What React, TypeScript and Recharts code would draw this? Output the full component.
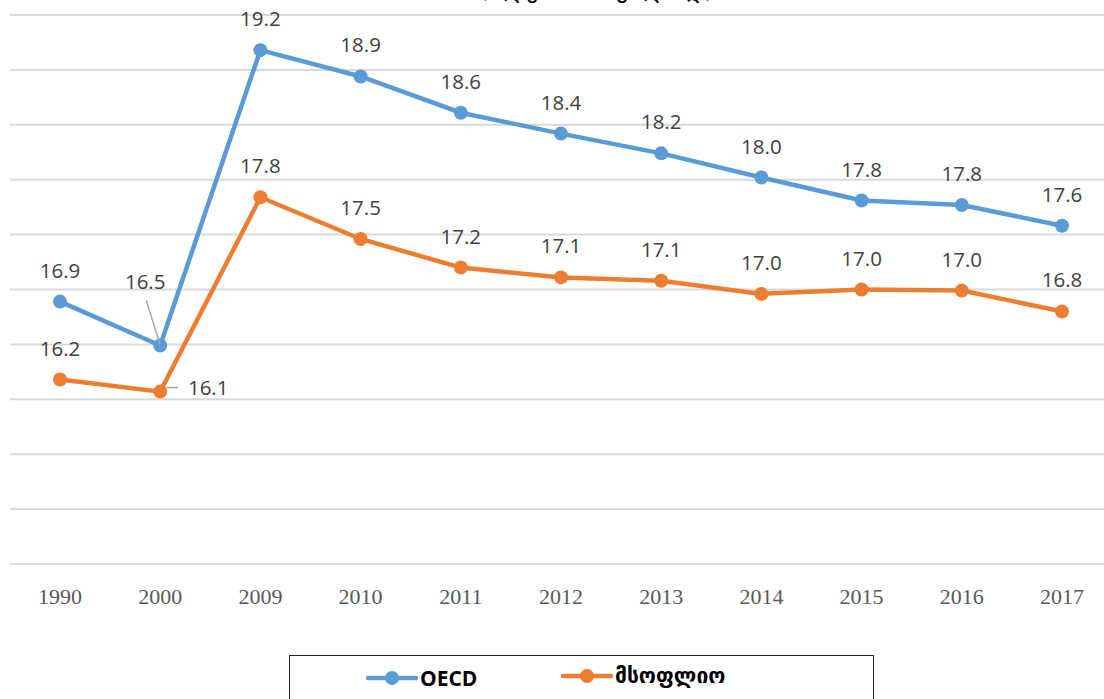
import React from "react";
import { LineChart, Line, XAxis, YAxis, CartesianGrid, LabelList } from "recharts";

const years = ["1990", "2000", "2009", "2010", "2011", "2012", "2013", "2014", "2015", "2016", "2017"];
const oecd = [16.89, 16.49, 19.18, 18.94, 18.61, 18.42, 18.24, 18.02, 17.81, 17.77, 17.58];
const world = [16.18, 16.07, 17.84, 17.46, 17.2, 17.11, 17.08, 16.96, 17.0, 16.99, 16.8];
const yTicks = [14.5, 15, 15.5, 16, 16.5, 17, 17.5, 18, 18.5, 19, 19.5];

const data = years.map((year, i) => ({ year, oecd: oecd[i], world: world[i] }));

const BLUE = "#5b9bd5";
const ORANGE = "#ed7d31";
const LABEL_FONT = "'Open Sans', sans-serif";

function makeLabel(series: "oecd" | "world") {
  return (props: any) => {
    const { x, y, value, index } = props;
    const txt = Number(value).toFixed(1);
    const common = {
      fontFamily: LABEL_FONT,
      fontSize: 20.5,
      fill: "#404040",
    };
    // 2000 labels are pulled aside with leader lines, as in the original
    if (index === 1 && series === "oecd") {
      return (
        <g>
          <line x1={x - 14} y1={y - 45} x2={x} y2={y - 1} stroke="#a6a6a6" strokeWidth={1.5} />
          <text x={x - 15} y={y - 56} textAnchor="middle" {...common}>{txt}</text>
        </g>
      );
    }
    if (index === 1 && series === "world") {
      return (
        <g>
          <line x1={x + 6} y1={y - 4} x2={x + 18} y2={y - 4} stroke="#a6a6a6" strokeWidth={1.5} />
          <text x={x + 48} y={y + 3} textAnchor="middle" {...common}>{txt}</text>
        </g>
      );
    }
    return (
      <text x={x} y={y - 24} textAnchor="middle" {...common}>{txt}</text>
    );
  };
}

function YearTick(props: any) {
  const { x, y, payload } = props;
  return (
    <text
      x={x}
      y={y + 32}
      textAnchor="middle"
      fontFamily="'Liberation Serif', serif"
      fontSize={22}
      fill="#595959"
    >
      {payload.value}
    </text>
  );
}

function LegendBox() {
  const item = (color: string, label: string, font: string, size: number) => (
    <div style={{ display: "flex", alignItems: "center" }}>
      <svg width={52} height={16} style={{ marginRight: 2 }}>
        <line x1={2} y1={8} x2={50} y2={8} stroke={color} strokeWidth={4.5} strokeLinecap="round" />
        <circle cx={26} cy={8} r={7} fill={color} />
      </svg>
      <span style={{ fontFamily: font, fontWeight: 700, fontSize: size, color: "#000" }}>{label}</span>
    </div>
  );
  return (
    <div
      style={{
        position: "absolute",
        left: 289,
        top: 655,
        width: 585,
        height: 70,
        border: "1.5px solid #222",
        boxSizing: "border-box",
        background: "#fff",
      }}
    >
      <div style={{ position: "absolute", left: 76, top: 8 }}>
        {item(BLUE, "OECD", "'Open Sans', sans-serif", 21)}
      </div>
      <div style={{ position: "absolute", left: 271, top: 8 }}>
        {item(ORANGE, "მსოფლიო", "'DejaVu Sans', sans-serif", 21)}
      </div>
    </div>
  );
}

export default function App() {
  return (
    <div
      style={{
        position: "absolute",
        left: 0,
        top: 0,
        width: 1104,
        height: 699,
        overflow: "hidden",
        background: "#fff",
      }}
    >
      <div
        style={{
          position: "absolute",
          left: 479,
          top: -25,
          fontFamily: "'DejaVu Sans', sans-serif",
          fontSize: 24,
          color: "#000",
          whiteSpace: "nowrap",
        }}
      >
        (წლები, საშუალოდ)
      </div>
      <LineChart
        width={1120}
        height={699}
        data={data}
        margin={{ top: 15, right: 8, bottom: 0, left: 10 }}
      >
        <CartesianGrid vertical={false} stroke="#d9d9d9" strokeWidth={2} />
        <XAxis
          dataKey="year"
          height={135}
          axisLine={false}
          tickLine={false}
          tick={<YearTick />}
          interval={0}
          padding={{ left: 50, right: 50 }}
        />
        <YAxis hide domain={[14.5, 19.5]} ticks={yTicks} />
        <Line
          dataKey="oecd"
          stroke={BLUE}
          strokeWidth={4.5}
          dot={{ r: 7, fill: BLUE, stroke: BLUE, strokeWidth: 0 }}
          isAnimationActive={false}
        >
          <LabelList dataKey="oecd" content={makeLabel("oecd")} />
        </Line>
        <Line
          dataKey="world"
          stroke={ORANGE}
          strokeWidth={4.5}
          dot={{ r: 7, fill: ORANGE, stroke: ORANGE, strokeWidth: 0 }}
          isAnimationActive={false}
        >
          <LabelList dataKey="world" content={makeLabel("world")} />
        </Line>
      </LineChart>
      <LegendBox />
    </div>
  );
}
